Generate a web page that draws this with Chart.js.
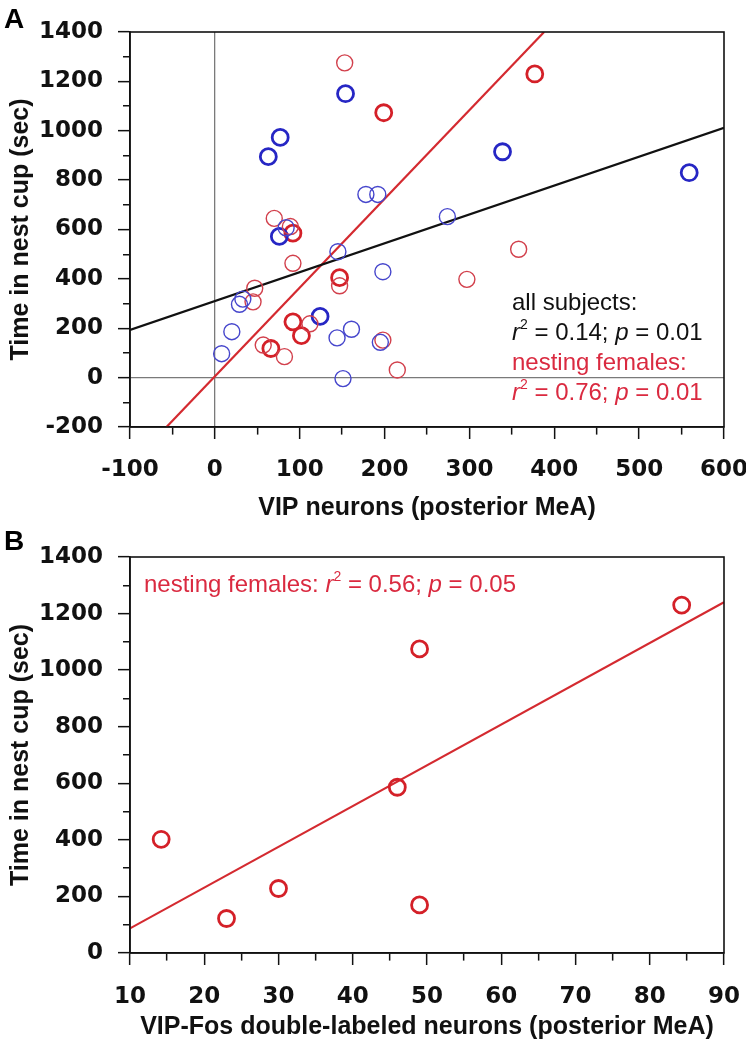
<!DOCTYPE html>
<html><head><meta charset="utf-8">
<script src="https://cdn.jsdelivr.net/npm/chart.js@4.4.1/dist/chart.umd.min.js"></script>
<style>
html,body{margin:0;padding:0;background:#fff;}
#wa{position:absolute;left:0;top:0;width:746px;height:530px;}
#wb{position:absolute;left:0;top:530px;width:746px;height:520px;}
</style></head><body>
<div id="wa"><canvas id="ca"></canvas></div>
<div id="wb"><canvas id="cb"></canvas></div>
<script>
// ---------- Panel A data (VIP neurons vs time in nest cup) ----------
const aRedBoldX  = [377, 199, 92, 147, 92, 102, 66];
const aRedBoldY  = [1230, 1073, 585, 405, 226, 170, 118];
const aRedThinX  = [153, 70, 89, 358, 92, 147, 47, 45, 297, 198, 215, 57, 82, 112];
const aRedThinY  = [1275, 645, 612, 520, 463, 372, 362, 307, 398, 152, 31, 132, 85, 218];
const aBlueBoldX = [154, 77, 63, 339, 559, 76, 124];
const aBlueBoldY = [1150, 973, 895, 915, 830, 572, 248];
const aBlueThinX = [178, 192, 84, 145, 274, 198, 195, 33, 29, 20, 8, 144, 161, 151];
const aBlueThinY = [742, 742, 607, 510, 652, 429, 143, 318, 297, 186, 97, 161, 196, -4];
const aAllFitX   = [-100, 600];
const aAllFitY   = [193, 1012];
const aFemFitX   = [-57, 388];
const aFemFitY   = [-200, 1400];
const aXTicks    = [-100, 0, 100, 200, 300, 400, 500, 600];
const aYTicks    = [-200, 0, 200, 400, 600, 800, 1000, 1200, 1400];

// ---------- Panel B data (VIP-Fos double-labeled vs time) ----------
const bX      = [14.2, 23, 30, 46, 49, 49, 84.3];
const bY      = [402, 122, 228, 586, 1075, 170, 1230];
const bFitX   = [10, 90];
const bFitY   = [87, 1240];
const bXTicks = [10, 20, 30, 40, 50, 60, 70, 80, 90];
const bYTicks = [0, 200, 400, 600, 800, 1000, 1200, 1400];

const RED_BOLD = '#d42028', RED_THIN = '#d2404c', BLUE_BOLD = '#2626c4', BLUE_THIN = '#4646cc';
const RED_TEXT = '#da2a40', RED_LINE = '#d42a30';
const TICK_FONT = {family: '"DejaVu Sans", sans-serif', weight: 'bold', size: 23};
const TITLE_FONT = {family: '"Liberation Sans", Arial, sans-serif', weight: 'bold', size: 25};

function pts(xs, ys) { return xs.map((x, i) => ({x: x, y: ys[i]})); }

function circles(xs, ys, color, bw) {
  return {type: 'scatter', data: pts(xs, ys), showLine: false, pointStyle: 'circle',
    pointRadius: 8, pointHoverRadius: 8, pointBorderWidth: bw, borderColor: color,
    pointBorderColor: color, backgroundColor: 'rgba(0,0,0,0)', pointBackgroundColor: 'rgba(0,0,0,0)', order: 1};
}
function fitLine(xs, ys, color) {
  return {type: 'scatter', data: pts(xs, ys), showLine: true, borderColor: color, borderWidth: 2.2,
    pointRadius: 0, pointHoverRadius: 0, backgroundColor: color, order: 10};
}

function fixScale(w, h) {
  return function (s) {
    if (w != null) s.width = w;
    if (h != null) s.height = h;
    s.paddingLeft = 0; s.paddingRight = 0; s.paddingTop = 0; s.paddingBottom = 0;
  };
}

function makeAxis(opts) {
  const majors = opts.majors;
  const tl = 12, minorLen = 7;
  const isMajor = v => majors.some(m => Math.abs(m - v) < 1e-6);
  return {
    type: 'linear', position: opts.position, min: opts.min, max: opts.max,
    afterFit: opts.afterFit,
    afterBuildTicks: function (s) { s.ticks = opts.allTicks.map(v => ({value: v})); },
    ticks: {autoSkip: false, maxRotation: 0, minRotation: 0, color: '#111', font: TICK_FONT,
      padding: opts.tickPad,
      callback: v => isMajor(v) ? String(v) : ''},
    grid: {
      drawOnChartArea: !!opts.zeroLine, drawTicks: true, tickLength: tl,
      color: ctx => (opts.zeroLine && ctx.tick && ctx.tick.value === 0) ? '#7a7a7a' : 'rgba(0,0,0,0)',
      lineWidth: 1.3,
      tickColor: '#111', tickWidth: 1.5,
      tickBorderDash: ctx => {
        if (!ctx.tick || isMajor(ctx.tick.value)) return [];
        return opts.position === 'left' ? [0, tl - minorLen, minorLen + 2, 100] : [minorLen, 100];
      }
    },
    border: {display: true, color: '#111', width: 1.6},
    title: {display: true, text: opts.title, color: '#111', font: TITLE_FONT, padding: opts.titlePad}
  };
}

function drawRuns(ctx, x, y, runs, size, color) {
  let cx = x;
  ctx.save();
  ctx.fillStyle = color;
  ctx.textBaseline = 'middle';
  ctx.textAlign = 'left';
  for (const r of runs) {
    const sz = r.sup ? Math.round(size * 0.6) : size;
    ctx.font = (r.i ? 'italic ' : '') + sz + 'px "Liberation Sans", Arial, sans-serif';
    ctx.fillText(r.t, cx, r.sup ? y - size * 0.32 : y);
    cx += ctx.measureText(r.t).width;
  }
  ctx.restore();
}

function decorPlugin(letter, letterY, notes) {
  return {
    id: 'decor' + letter,
    afterDraw(chart) {
      const {ctx, chartArea: a} = chart;
      ctx.save();
      ctx.strokeStyle = '#111';
      ctx.lineWidth = 1.6;
      ctx.strokeRect(a.left, a.top, a.right - a.left, a.bottom - a.top);
      ctx.fillStyle = '#000';
      ctx.font = 'bold 28px "Liberation Sans", Arial, sans-serif';
      ctx.textBaseline = 'middle';
      ctx.fillText(letter, 4, letterY);
      ctx.restore();
      for (const n of notes) drawRuns(ctx, n.x, n.y, n.runs, n.size, n.color);
    }
  };
}

Chart.defaults.animation = false;

// ---------- Chart A ----------
new Chart(document.getElementById('ca'), {
  type: 'scatter',
  data: {datasets: [
    circles(aBlueThinX, aBlueThinY, BLUE_THIN, 1.4),
    circles(aRedThinX, aRedThinY, RED_THIN, 1.4),
    circles(aBlueBoldX, aBlueBoldY, BLUE_BOLD, 2.8),
    circles(aRedBoldX, aRedBoldY, RED_BOLD, 2.8),
    fitLine(aAllFitX, aAllFitY, '#111'),
    fitLine(aFemFitX, aFemFitY, RED_LINE)
  ]},
  options: {
    responsive: true, maintainAspectRatio: false, animation: false,
    layout: {padding: {top: 32, right: 22, left: 0, bottom: 0}},
    plugins: {legend: {display: false}, tooltip: {enabled: false}},
    events: [],
    scales: {
      x: makeAxis({position: 'bottom', min: -100, max: 600, majors: aXTicks,
        allTicks: [-100,-50,0,50,100,150,200,250,300,350,400,450,500,550,600],
        zeroLine: true, tickPad: 17, title: 'VIP neurons (posterior MeA)',
        titlePad: {top: 0, bottom: 7}, afterFit: fixScale(null, 103)}),
      y: makeAxis({position: 'left', min: -200, max: 1400, majors: aYTicks,
        allTicks: [-200,-100,0,100,200,300,400,500,600,700,800,900,1000,1100,1200,1300,1400],
        zeroLine: true, tickPad: 15, title: 'Time in nest cup (sec)',
        titlePad: {top: 6, bottom: 0}, afterFit: fixScale(130, null)})
    }
  },
  plugins: [decorPlugin('A', 20, [
    {x: 512, y: 303, size: 24, color: '#111', runs: [{t: 'all subjects:'}]},
    {x: 512, y: 333, size: 24, color: '#111', runs: [{t: 'r', i: true}, {t: '2', sup: true}, {t: ' = 0.14; '}, {t: 'p', i: true}, {t: ' = 0.01'}]},
    {x: 512, y: 363, size: 24, color: RED_TEXT, runs: [{t: 'nesting females:'}]},
    {x: 512, y: 393, size: 24, color: RED_TEXT, runs: [{t: 'r', i: true}, {t: '2', sup: true}, {t: ' = 0.76; '}, {t: 'p', i: true}, {t: ' = 0.01'}]}
  ])]
});

// ---------- Chart B ----------
new Chart(document.getElementById('cb'), {
  type: 'scatter',
  data: {datasets: [
    circles(bX, bY, RED_BOLD, 2.8),
    fitLine(bFitX, bFitY, RED_LINE)
  ]},
  options: {
    responsive: true, maintainAspectRatio: false, animation: false,
    layout: {padding: {top: 27, right: 22, left: 0, bottom: 0}},
    plugins: {legend: {display: false}, tooltip: {enabled: false}},
    events: [],
    scales: {
      x: makeAxis({position: 'bottom', min: 10, max: 90, majors: bXTicks,
        allTicks: [10,15,20,25,30,35,40,45,50,55,60,65,70,75,80,85,90],
        zeroLine: false, tickPad: 18, title: 'VIP-Fos double-labeled neurons (posterior MeA)',
        titlePad: {top: 0, bottom: 8}, afterFit: fixScale(null, 97)}),
      y: makeAxis({position: 'left', min: 0, max: 1400, majors: bYTicks,
        allTicks: [0,100,200,300,400,500,600,700,800,900,1000,1100,1200,1300,1400],
        zeroLine: false, tickPad: 15, title: 'Time in nest cup (sec)',
        titlePad: {top: 6, bottom: 0}, afterFit: fixScale(130, null)})
    }
  },
  plugins: [decorPlugin('B', 12, [
    {x: 144, y: 55, size: 24, color: RED_TEXT, runs: [{t: 'nesting females: '}, {t: 'r', i: true}, {t: '2', sup: true}, {t: ' = 0.56; '}, {t: 'p', i: true}, {t: ' = 0.05'}]}
  ])]
});
</script>
</body></html>
